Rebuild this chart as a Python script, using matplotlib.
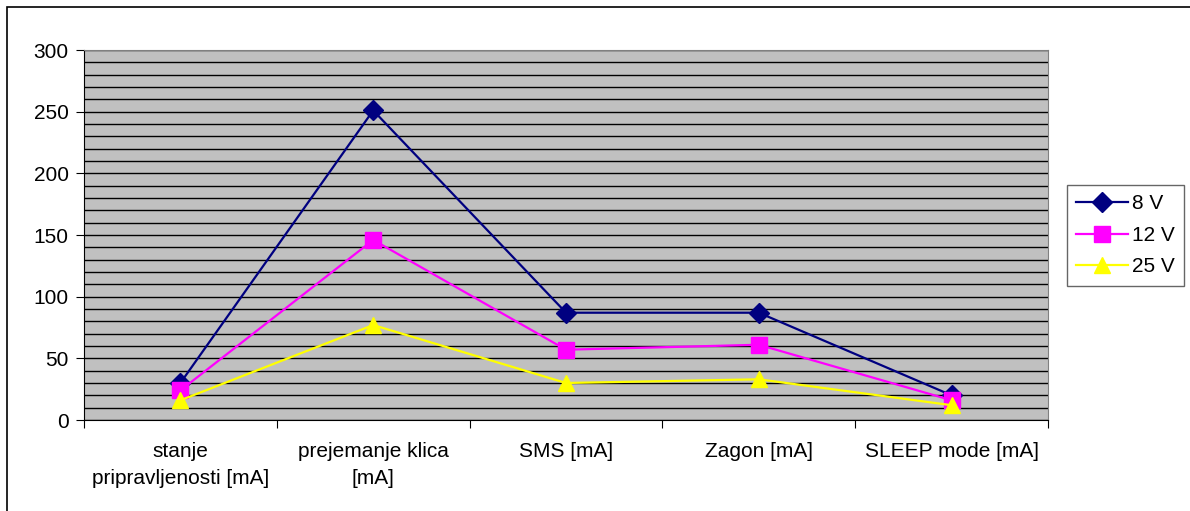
import numpy as np
import matplotlib
matplotlib.use("Agg")
import matplotlib.pyplot as plt
from matplotlib.patches import Rectangle

plt.rcParams['font.family'] = ['Liberation Sans', 'DejaVu Sans']

categories = ["stanje\npripravljenosti [mA]", "prejemanje klica\n[mA]", "SMS [mA]",
              "Zagon [mA]", "SLEEP mode [mA]"]
v8 = [30, 251, 87, 87, 20]
v12 = [24, 146, 57, 61, 16]
v25 = [16, 77, 30, 33, 12]

fig = plt.figure(figsize=(11.9, 5.11), dpi=100)
ax = fig.add_axes([84/1190, 91/511, 964/1190, 370/511])

# outer chart border
fig.patches.append(Rectangle((7/1190, -0.01), 1.2, (511 - 7)/511 + 0.01,
                             transform=fig.transFigure, fill=False,
                             edgecolor='black', lw=1.2))

ax.set_facecolor('#C0C0C0')
x = np.arange(len(categories))

ax.plot(x, v8, color='#000080', lw=1.6, marker='D', ms=10, label='8 V', zorder=3)
ax.plot(x, v12, color='#FF00FF', lw=1.6, marker='s', ms=11, label='12 V', zorder=4)
ax.plot(x, v25, color='#FFFF00', lw=1.6, marker='^', ms=12, label='25 V', zorder=5)

ax.set_xlim(-0.5, 4.5)
ax.set_ylim(0, 300)
ax.set_yticks(np.arange(0, 301, 50))
ax.set_yticks(np.arange(0, 301, 10), minor=True)
ax.yaxis.grid(True, which='both', color='black', lw=1)
ax.set_axisbelow(True)

ax.set_xticks(np.arange(-0.5, 4.6, 1))
ax.set_xticklabels([])
ax.set_xticks(x, minor=True)
ax.set_xticklabels(categories, minor=True, fontsize=15, linespacing=1.55)
ax.tick_params(axis='x', which='minor', length=0, pad=16)
ax.tick_params(axis='x', which='major', length=6, direction='out')
ax.tick_params(axis='y', which='major', length=6, labelsize=15, pad=5)
ax.tick_params(axis='y', which='minor', length=0)

for side in ['top', 'right']:
    ax.spines[side].set_color('#808080')
ax.spines['left'].set_color('black')
ax.spines['bottom'].set_color('black')

leg = ax.legend(loc='upper left', bbox_to_anchor=(1067/1190, (511 - 185)/511),
                bbox_transform=fig.transFigure, fontsize=15, frameon=True,
                fancybox=False, edgecolor='#404040', handlelength=2.5,
                borderpad=0.45, labelspacing=0.6, handletextpad=0.15,
                borderaxespad=0)
leg.get_frame().set_linewidth(1)

fig.savefig('out.png', dpi=100)
